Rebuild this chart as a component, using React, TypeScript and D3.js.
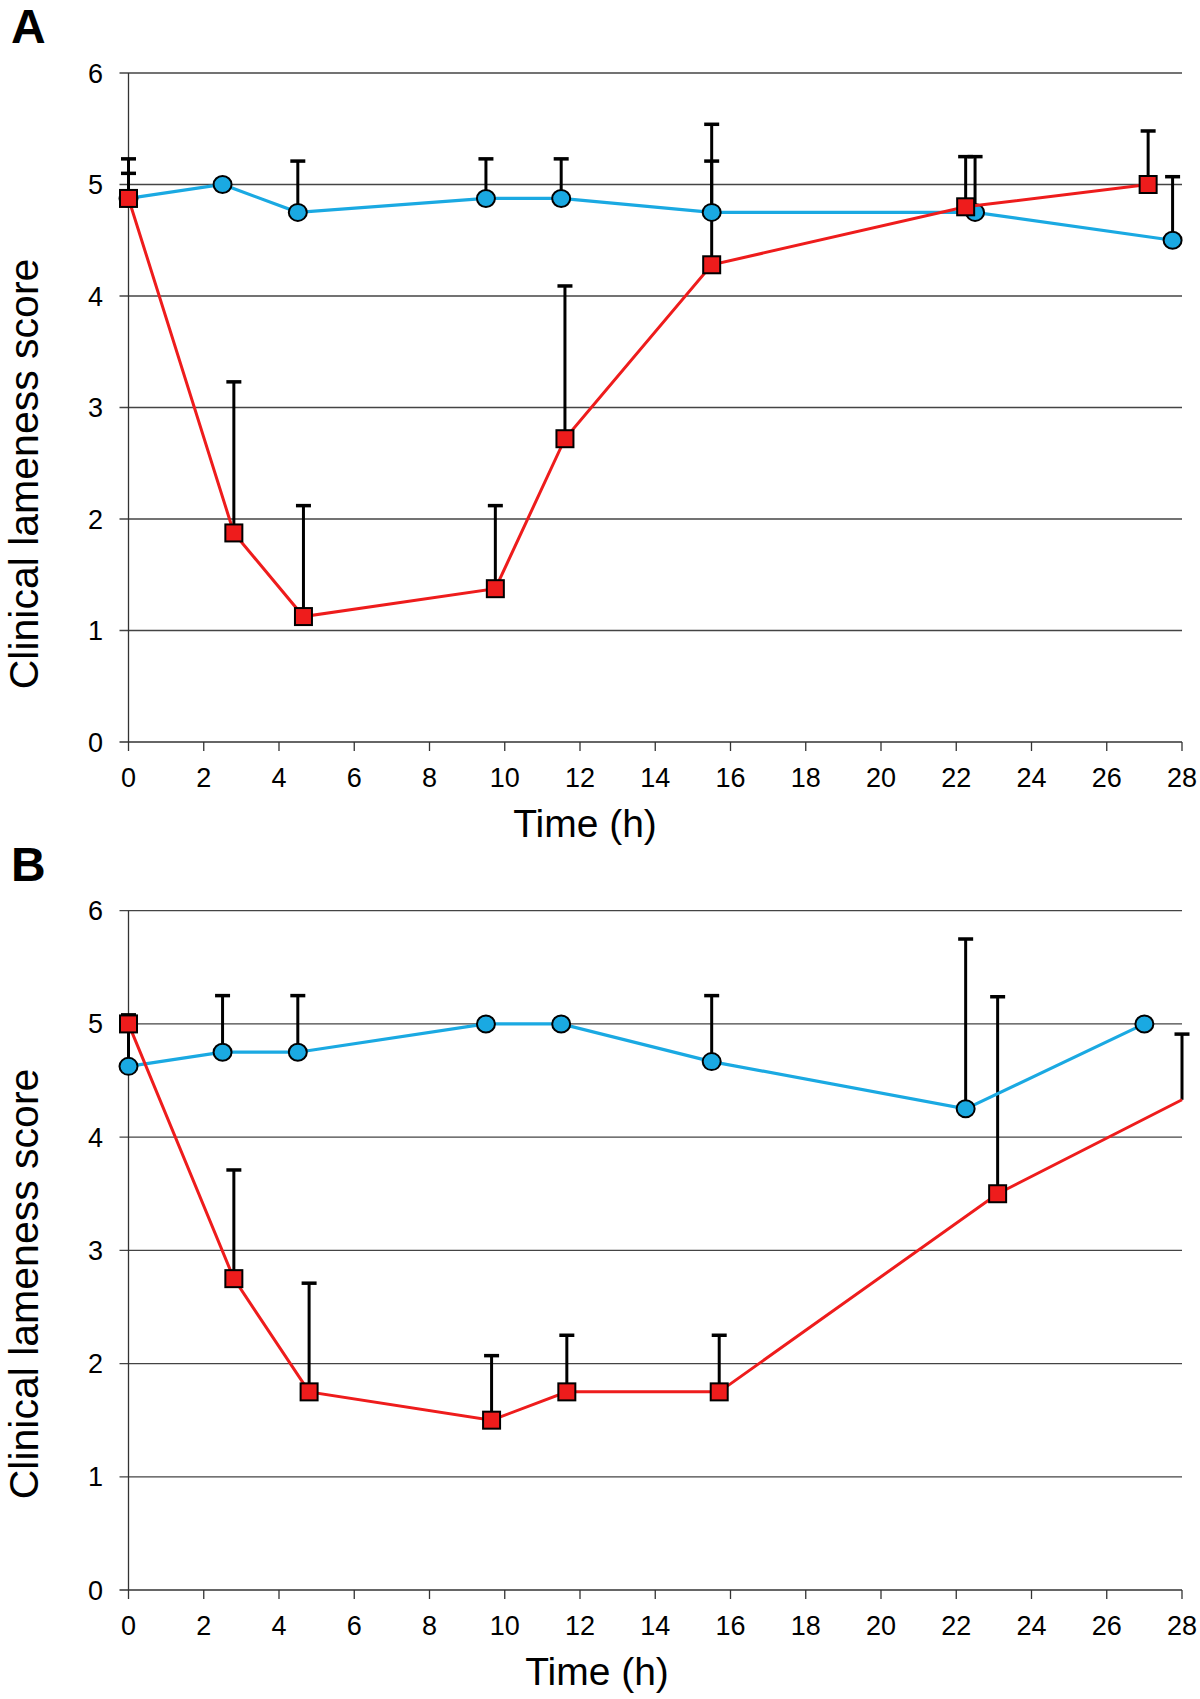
import React from "react";
import * as d3 from "d3";

const xTicks = [0, 2, 4, 6, 8, 10, 12, 14, 16, 18, 20, 22, 24, 26, 28];
const yTicks = [0, 1, 2, 3, 4, 5, 6];

const aBlueX = [0, 2.5, 4.5, 9.5, 11.5, 15.5, 22.5, 27.75];
const aBlueY = [4.875, 5.0, 4.75, 4.875, 4.875, 4.75, 4.75, 4.5];
const aBlueErr = [5.23, null, 5.21, 5.23, 5.23, 5.21, 5.25, 5.07];
const aRedX = [0, 2.8, 4.65, 9.75, 11.6, 15.5, 22.25, 27.1];
const aRedY = [4.875, 1.875, 1.125, 1.375, 2.72, 4.28, 4.8, 5.0];
const aRedErr = [5.1, 3.23, 2.12, 2.12, 4.09, 5.54, 5.25, 5.48];

const bBlueX = [0, 2.5, 4.5, 9.5, 11.5, 15.5, 22.25, 27];
const bBlueY = [4.625, 4.75, 4.75, 5.0, 5.0, 4.667, 4.25, 5.0];
const bBlueErr = [5.05, 5.25, 5.25, null, null, 5.25, 5.75, null];
const bRedX = [0, 2.8, 4.8, 9.65, 11.65, 15.7, 23.1, 28];
const bRedY = [5.0, 2.75, 1.75, 1.5, 1.75, 1.75, 3.5, 4.33];
const bRedErr = [5.08, 3.71, 2.71, 2.07, 2.25, 2.25, 5.24, 4.91];

const BLUE = "#1aa9e2";
const RED = "#ee1c1c";
const FONT = "'Liberation Sans', Arial, Helvetica, sans-serif";

type Series = { x: number[]; y: number[]; err: (number | null)[] };

function Panel(props: {
  label: string;
  top: number;
  bottom: number;
  yLabelCenter: number;
  xLabelCenter: number;
  blue: Series;
  red: Series;
}) {
  const { label, top, bottom, blue, red, yLabelCenter, xLabelCenter } = props;
  const left = 128.5;
  const right = 1182;
  const x = d3.scaleLinear().domain([0, 28]).range([left, right]);
  const y = d3.scaleLinear().domain([0, 6]).range([bottom, top]);
  const line = d3
    .line<[number, number]>()
    .x((d) => x(d[0]))
    .y((d) => y(d[1]));
  const pts = (s: Series) => s.x.map((v, i) => [v, s.y[i]] as [number, number]);
  const errBars = (s: Series, key: string) =>
    s.x.map((v, i) => {
      const e = s.err[i];
      if (e == null) return null;
      return (
        <g key={key + i}>
          <line x1={x(v)} x2={x(v)} y1={y(s.y[i])} y2={y(e)} stroke="#000" strokeWidth={3} />
          <line x1={x(v) - 7.5} x2={x(v) + 7.5} y1={y(e)} y2={y(e)} stroke="#000" strokeWidth={3.5} />
        </g>
      );
    });
  return (
    <g>
      <text x={11} y={top - 30} fontFamily={FONT} fontWeight="bold" fontSize={48}>
        {label}
      </text>
      {yTicks.map((t) => (
        <g key={"y" + t}>
          <line
            x1={left - 9}
            x2={right}
            y1={y(t)}
            y2={y(t)}
            stroke={t === 0 ? "#333" : "#444"}
            strokeWidth={1.3}
          />
          <text x={103} y={y(t) + 9.5} textAnchor="end" fontFamily={FONT} fontSize={27}>
            {t}
          </text>
        </g>
      ))}
      <line x1={left} x2={left} y1={top} y2={bottom} stroke="#333" strokeWidth={1.3} />
      {xTicks.map((t) => (
        <g key={"x" + t}>
          <line x1={x(t)} x2={x(t)} y1={bottom} y2={bottom + 9} stroke="#333" strokeWidth={1.3} />
          <text x={x(t)} y={bottom + 45} textAnchor="middle" fontFamily={FONT} fontSize={27}>
            {t}
          </text>
        </g>
      ))}
      <text
        x={xLabelCenter}
        y={bottom + 95}
        textAnchor="middle"
        fontFamily={FONT}
        fontSize={39}
      >
        Time (h)
      </text>
      <text
        transform={`translate(38,${yLabelCenter}) rotate(-90)`}
        textAnchor="middle"
        fontFamily={FONT}
        fontSize={41}
      >
        Clinical lameness score
      </text>
      {errBars(blue, "be")}
      {errBars(red, "re")}
      <path d={line(pts(blue)) || ""} fill="none" stroke={BLUE} strokeWidth={3.2} />
      {blue.x.map((v, i) => (
        <ellipse
          key={"bc" + i}
          cx={x(v)}
          cy={y(blue.y[i])}
          rx={9}
          ry={8.5}
          fill={BLUE}
          stroke="#000"
          strokeWidth={2}
        />
      ))}
      <path d={line(pts(red)) || ""} fill="none" stroke={RED} strokeWidth={3} />
      {red.x.map((v, i) =>
        v >= 28 ? null : (
          <rect
            key={"rs" + i}
            x={x(v) - 8.5}
            y={y(red.y[i]) - 8.5}
            width={17}
            height={17}
            fill={RED}
            stroke="#000"
            strokeWidth={2}
          />
        )
      )}
    </g>
  );
}

export default function App() {
  return (
    <svg
      width={1200}
      height={1699}
      style={{ position: "absolute", left: 0, top: 0, background: "#fff" }}
    >
      <rect x={0} y={0} width={1200} height={1699} fill="#fff" />
      <Panel
        label="A"
        top={73}
        bottom={742}
        yLabelCenter={474}
        xLabelCenter={585}
        blue={{ x: aBlueX, y: aBlueY, err: aBlueErr }}
        red={{ x: aRedX, y: aRedY, err: aRedErr }}
      />
      <Panel
        label="B"
        top={910.7}
        bottom={1590}
        yLabelCenter={1284}
        xLabelCenter={597}
        blue={{ x: bBlueX, y: bBlueY, err: bBlueErr }}
        red={{ x: bRedX, y: bRedY, err: bRedErr }}
      />
    </svg>
  );
}
